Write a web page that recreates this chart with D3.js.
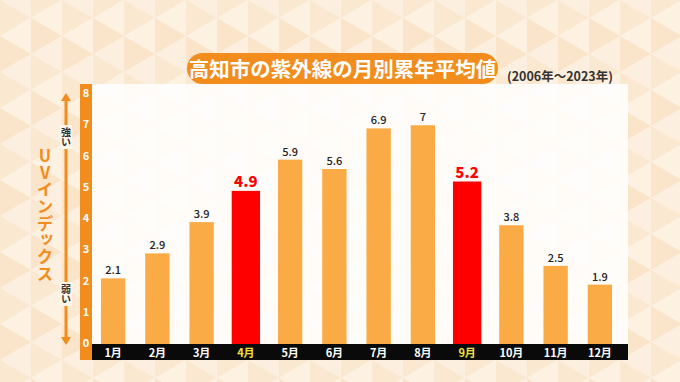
<!DOCTYPE html>
<html><head><meta charset="utf-8">
<script src="https://cdn.jsdelivr.net/npm/d3@7"></script>
<style>
html,body{margin:0;padding:0;background:#fdf4e8;}
svg{display:block;}
text{font-family:"Noto Sans CJK JP","Noto Sans",sans-serif;}
</style></head>
<body>
<svg id="c" width="680" height="382"></svg>
<script>
const months = ["1月","2月","3月","4月","5月","6月","7月","8月","9月","10月","11月","12月"];
const uvValues = [2.1, 2.9, 3.9, 4.9, 5.9, 5.6, 6.9, 7, 5.2, 3.8, 2.5, 1.9];
const valueLabels = ["2.1","2.9","3.9","4.9","5.9","5.6","6.9","7","5.2","3.8","2.5","1.9"];
const highlighted = ["4月","9月"];
const yTicks = [0,1,2,3,4,5,6,7,8];
const title = "高知市の紫外線の月別累年平均値";
const subtitle = "(2006年～2023年)";
const axisTitle = "UVインデックス";

const W = 680, H = 382;
const svg = d3.select("#c");
const orange = "#f28c1c", barOrange = "#fbab46", red = "#fe0000";

// background triangle pattern
const bg = svg.append("g");
bg.append("rect").attr("width",W).attr("height",H).attr("fill","#fdf3e6");
const tw = 31, th = 36;
const shades = ["#fbe8d1","#fdf1e2","#fae4ca","#fcefdf"];
for (let c = -1; c * tw < W + tw; c++) {
  const x0 = c * tw, off = (((c % 2) + 2) % 2) * th / 2;
  for (let k = -2; k * th < H + th; k++) {
    const y0 = k * th + off;
    // right-pointing triangle (vertical edge at x0)
    bg.append("path")
      .attr("d", `M${x0},${y0}L${x0},${y0+th}L${x0+tw},${y0+th/2}Z`)
      .attr("fill", shades[((c + k) % 2 + 2) % 2 === 0 ? 0 : 2]);
    // left-pointing triangle (vertical edge at x0+tw)
    bg.append("path")
      .attr("d", `M${x0+tw},${y0+th/2}L${x0+tw},${y0+th*1.5}L${x0},${y0+th}Z`)
      .attr("fill", shades[((c + k) % 2 + 2) % 2 === 0 ? 1 : 3]);
  }
}

// scales
const x = d3.scaleBand().domain(months).range([91, 622]).paddingInner(0.45).paddingOuter(0.225);
const y = d3.scaleLinear().domain([0, 8]).range([344, 94]);

// white panel
svg.append("rect").attr("x",92).attr("y",84).attr("width",536).attr("height",260)
  .attr("fill","#ffffff").attr("opacity",0.85);

// bars
svg.append("g").selectAll("rect").data(months).join("rect")
  .attr("x", (m) => x(m) - (highlighted.includes(m) ? 2 : 0))
  .attr("width", (m) => x.bandwidth() + (highlighted.includes(m) ? 4 : 0))
  .attr("y", (m, i) => y(uvValues[i]))
  .attr("height", (m, i) => y(0) - y(uvValues[i]))
  .attr("fill", (m) => highlighted.includes(m) ? red : barOrange);

// value labels
svg.append("g").selectAll("text").data(months).join("text")
  .attr("x", (m) => x(m) + x.bandwidth()/2)
  .attr("y", (m, i) => y(uvValues[i]) - (highlighted.includes(m) ? 4 : 4))
  .attr("text-anchor","middle")
  .attr("font-size", (m) => highlighted.includes(m) ? 15 : 11)
  .attr("font-weight", (m) => highlighted.includes(m) ? 900 : 500)
  .attr("fill", (m) => highlighted.includes(m) ? red : "#222")
  .text((m, i) => valueLabels[i]);

// bottom black strip with month labels
svg.append("rect").attr("x",92).attr("y",344).attr("width",536).attr("height",16).attr("fill","#0a0a0a");
const xAxis = svg.append("g").attr("transform","translate(0,344)")
  .call(d3.axisBottom(x).tickSize(0).tickPadding(0));
xAxis.select(".domain").remove();
xAxis.selectAll("text")
  .attr("dy", null).attr("y", 13)
  .attr("font-family", '"Noto Sans CJK JP",sans-serif')
  .attr("font-size", 11).attr("font-weight", 700)
  .attr("fill", (m) => highlighted.includes(m) ? "#f3e23c" : "#ffffff");

// left orange axis strip
svg.append("rect").attr("x",80).attr("y",84).attr("width",12).attr("height",276).attr("fill",orange);
const yAxis = svg.append("g").attr("transform","translate(86,0)")
  .call(d3.axisLeft(y).tickValues(yTicks).tickSize(0).tickPadding(0).tickFormat(d3.format("d")));
yAxis.select(".domain").remove();
yAxis.selectAll("text")
  .attr("x", 0).attr("dy","0.32em").attr("text-anchor","middle")
  .attr("transform","translate(0,-1)")
  .attr("font-family", '"Noto Sans","DejaVu Sans",sans-serif')
  .attr("font-size", 11).attr("font-weight", 700).attr("fill","#ffffff");

// strength arrow
const ax = 66;
svg.append("line").attr("x1",ax).attr("x2",ax).attr("y1",y(8)+4).attr("y2",y(0)-4)
  .attr("stroke",orange).attr("stroke-width",3);
svg.append("path").attr("d",`M${ax-5},${y(8)+7}L${ax},${y(8)-1}L${ax+5},${y(8)+7}Z`).attr("fill",orange);
svg.append("path").attr("d",`M${ax-5},${y(0)-7}L${ax},${y(0)+1}L${ax+5},${y(0)-7}Z`).attr("fill",orange);

function vlabel(txt, cy) {
  svg.append("rect").attr("x",ax-6).attr("y",cy-12).attr("width",12).attr("height",24).attr("fill","#fdf5ea");
  svg.append("text").attr("x",ax).attr("y",cy)
    .style("writing-mode","vertical-rl").style("text-orientation","upright")
    .attr("text-anchor","middle").attr("dominant-baseline","central")
    .attr("font-size",10).attr("font-weight",700).attr("fill","#333")
    .text(txt);
}
vlabel("強い", 137);
vlabel("弱い", 294);

// axis title vertical
svg.append("text").attr("x",45).attr("y",215)
  .style("writing-mode","vertical-rl").style("text-orientation","upright")
  .attr("text-anchor","middle").attr("dominant-baseline","central")
  .attr("font-size",16.5).attr("font-weight",700).attr("fill",orange)
  .attr("letter-spacing",0.3)
  .text(axisTitle);

// title pill
svg.append("rect").attr("x",187).attr("y",53).attr("width",311).attr("height",31).attr("rx",15.5)
  .attr("fill",orange);
svg.append("text").attr("x",342.5).attr("y",76.5).attr("text-anchor","middle")
  .attr("font-size",20.5).attr("font-weight",700).attr("fill","#fff").text(title);

svg.append("text").attr("x",507).attr("y",81).attr("text-anchor","start")
  .attr("font-size",12.5).attr("font-weight",700).attr("fill","#333").text(subtitle);
</script>
</body></html>
